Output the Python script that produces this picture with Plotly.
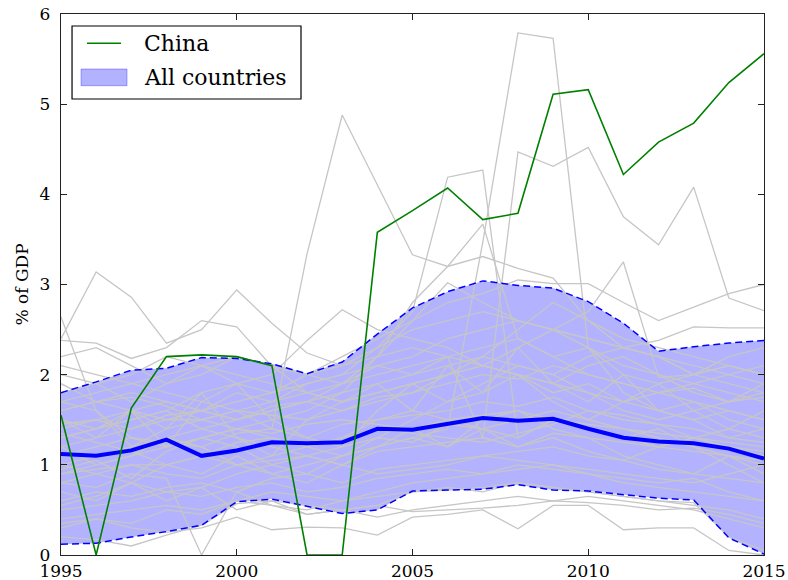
import plotly.graph_objects as go

years = list(range(1995, 2016))

china = [1.55, 0.0, 1.63, 2.20, 2.22, 2.20, 2.10, 0.0, 0.0, 3.58, 3.82, 4.07, 3.72, 3.79, 5.11,
         5.16, 4.22, 4.58, 4.79, 5.24, 5.56]

median = [1.12, 1.10, 1.16, 1.28, 1.10, 1.16, 1.25, 1.24, 1.25, 1.40, 1.39, 1.45, 1.52, 1.49, 1.51,
          1.40, 1.30, 1.26, 1.24, 1.18, 1.07]

upper = [1.80, 1.92, 2.05, 2.07, 2.19, 2.18, 2.12, 2.01, 2.14, 2.45, 2.74, 2.92, 3.04, 2.99, 2.96,
         2.81, 2.57, 2.26, 2.31, 2.35, 2.38]

lower = [0.12, 0.13, 0.20, 0.26, 0.33, 0.59, 0.62, 0.54, 0.46, 0.50, 0.71, 0.72, 0.73, 0.78, 0.72,
         0.71, 0.67, 0.63, 0.61, 0.19, 0.01]

country_a = [1.9, 1.7, 1.6, 1.5, 1.5, 1.6, 1.4, 3.34, 4.88, 4.1, 3.33, 3.2, 3.31, 3.18, 3.07, 2.6, 2.3, 2.2, 2.0, 2.1, 2.0]
country_b = [1.2, 1.3, 1.4, 1.5, 1.6, 1.7, 1.8, 1.9, 2.0, 2.3, 2.7, 4.19, 4.27, 1.3, 1.5, 1.4, 1.3, 1.2, 1.3, 1.2, 1.1]
country_c = [0.8, 0.9, 1.0, 1.0, 1.1, 1.0, 1.1, 1.2, 1.1, 1.2, 1.3, 1.4, 3.47, 5.79, 5.73, 2.3, 1.8, 1.6, 1.7, 1.5, 1.4]
country_d = [1.5, 1.4, 1.6, 1.7, 1.6, 1.8, 1.7, 1.9, 2.0, 2.1, 2.0, 2.2, 1.3, 4.47, 4.31, 4.52, 3.75, 3.44, 4.08, 2.85, 2.71]
country_e = [0.9, 1.0, 1.1, 1.2, 1.3, 1.4, 1.5, 1.6, 1.8, 2.2, 2.8, 3.2, 3.67, 2.4, 2.2, 2.0, 1.9, 1.8, 1.7, 1.6, 1.5]
country_g = [1.4, 1.5, 1.6, 1.4, 1.5, 1.6, 1.7, 1.8, 1.7, 1.8, 1.9, 2.0, 2.1, 2.3, 2.5, 2.7, 3.25, 1.97, 2.0, 2.1, 2.0]
country_h = [1.7, 1.8, 1.9, 2.0, 2.1, 2.2, 2.1, 2.0, 2.2, 2.4, 2.6, 2.8, 2.9, 3.05, 3.01, 3.01, 2.8, 2.6, 2.75, 2.9, 3.0]
country_i = [1.6, 1.7, 1.8, 1.7, 1.6, 1.5, 1.6, 1.7, 1.8, 1.9, 2.0, 2.1, 2.2, 2.1, 2.0, 2.2, 2.3, 2.38, 2.53, 2.52, 2.52]
country_j = [2.4, 3.14, 2.86, 2.35, 2.5, 2.94, 2.57, 2.24, 2.1, 2.2, 2.3, 2.2, 2.1, 2.0, 1.8, 1.9, 1.7, 1.6, 1.5, 1.6, 1.5]
country_k = [2.64, 1.6, 1.3, 1.2, 1.3, 1.4, 1.3, 1.2, 1.3, 1.5, 1.6, 1.5, 1.4, 1.5, 1.6, 1.5, 1.4, 1.3, 1.2, 1.1, 1.0]
country_l = [2.38, 2.35, 2.18, 2.3, 2.6, 2.53, 2.09, 2.0, 1.9, 2.1, 2.2, 2.4, 2.5, 2.6, 2.5, 2.4, 2.3, 2.2, 2.1, 2.0, 1.9]
country_m = [1.3, 1.4, 1.5, 1.6, 1.8, 1.9, 2.0, 2.38, 2.72, 2.5, 2.4, 2.3, 2.1, 2.0, 1.9, 1.8, 1.7, 1.8, 1.9, 2.0, 2.1]
country_n = [1.0, 1.1, 1.2, 1.3, 1.4, 1.5, 1.6, 1.7, 1.9, 2.2, 2.6, 3.02, 2.8, 2.6, 2.5, 2.4, 2.3, 2.2, 2.0, 1.9, 1.8]
country_p = [0.8, 0.75, 0.9, 0.85, 0.0, 0.7, 0.55, 0.45, 0.5, 0.42, 0.5, 0.55, 0.6, 0.65, 0.6, 0.65, 0.6, 0.55, 0.5, 0.4, 0.3]
country_q = [0.35, 0.4, 0.3, 0.25, 0.3, 0.42, 0.28, 0.31, 0.3, 0.22, 0.42, 0.45, 0.5, 0.29, 0.55, 0.55, 0.28, 0.3, 0.3, 0.05, 0.0]
country_r = [0.2, 0.17, 0.1, 0.22, 0.33, 0.57, 0.6, 0.55, 0.5, 0.55, 0.7, 0.72, 0.75, 0.8, 0.75, 0.7, 0.65, 0.6, 0.58, 0.2, 0.05]
country_s = [1.45, 1.5, 1.4, 1.55, 1.6, 1.5, 1.65, 1.7, 1.6, 1.75, 1.8, 1.9, 2.0, 1.95, 2.1, 2.0, 1.9, 1.8, 1.85, 1.7, 1.75]
country_t = [0.9, 0.95, 1.0, 0.9, 0.85, 1.0, 1.05, 1.1, 1.0, 1.15, 1.2, 1.25, 1.3, 1.2, 1.35, 1.3, 1.25, 1.2, 1.15, 1.1, 1.05]
country_u = [0.5, 0.55, 0.6, 0.7, 0.65, 0.75, 0.8, 0.7, 0.75, 0.85, 0.9, 0.95, 0.9, 1.0, 0.95, 0.9, 0.85, 0.8, 0.85, 0.7, 0.6]
country_v = [1.7, 1.6, 1.2, 1.4, 1.8, 1.3, 1.1, 1.5, 1.7, 1.9, 1.6, 2.1, 1.8, 2.3, 1.9, 1.7, 2.0, 1.6, 1.5, 1.3, 1.4]
country_w = [0.3, 0.4, 0.35, 0.5, 0.45, 0.6, 0.55, 0.5, 0.6, 0.65, 0.7, 0.75, 0.7, 0.8, 0.75, 0.7, 0.65, 0.6, 0.55, 0.5, 0.4]
country_x = [1.1, 1.2, 1.3, 1.25, 1.2, 1.35, 1.4, 1.3, 1.45, 1.5, 1.55, 1.6, 1.7, 1.65, 1.75, 1.6, 1.5, 1.45, 1.4, 1.3, 1.25]
country_y = [2.1, 2.0, 1.9, 1.8, 1.7, 1.6, 1.55, 1.5, 1.6, 1.7, 1.8, 2.0, 2.2, 2.5, 2.8, 2.6, 2.4, 2.3, 2.2, 2.1, 2.0]
country_z = [0.7, 0.6, 0.8, 1.0, 0.9, 1.1, 0.9, 0.8, 1.0, 1.2, 1.4, 1.2, 1.5, 1.6, 1.4, 1.3, 1.1, 1.0, 0.9, 1.1, 0.9]
country_aa = [1.6, 1.7, 1.75, 1.65, 1.5, 1.4, 1.35, 1.45, 1.5, 1.45, 1.4, 1.5, 1.55, 1.6, 1.5, 1.45, 1.4, 1.35, 1.3, 1.25, 1.2]
country_ab = [0.95, 1.05, 0.85, 1.15, 1.3, 1.2, 1.0, 0.9, 1.1, 1.3, 1.25, 1.45, 1.4, 1.2, 1.3, 1.15, 1.05, 1.2, 1.3, 1.4, 1.6]
country_ac = [0.4, 0.45, 0.5, 0.55, 0.5, 0.6, 0.7, 0.65, 0.6, 0.7, 0.8, 0.85, 0.9, 0.95, 1.0, 0.9, 0.8, 0.75, 0.7, 0.65, 0.6]
country_ad = [1.3, 1.4, 1.5, 1.6, 1.4, 1.3, 1.2, 1.1, 1.2, 1.3, 1.5, 1.7, 1.9, 2.1, 2.0, 1.8, 1.6, 1.5, 1.6, 1.7, 1.8]
country_ae = [2.0, 1.9, 1.7, 1.9, 2.1, 2.0, 1.9, 1.8, 1.9, 2.0, 2.1, 2.2, 2.3, 2.4, 2.2, 2.3, 2.1, 2.0, 1.9, 1.8, 1.7]
country_af = [0.6, 0.7, 0.65, 0.75, 0.8, 0.7, 0.85, 0.9, 0.8, 0.95, 1.0, 1.05, 1.1, 1.15, 1.2, 1.1, 1.05, 0.95, 0.9, 0.85, 0.8]
country_ag = [1.2, 1.0, 1.1, 1.3, 1.2, 1.0, 0.9, 1.0, 1.1, 1.2, 1.3, 1.2, 1.4, 1.3, 1.5, 1.4, 1.3, 1.4, 1.2, 1.0, 0.8]
country_ah = [1.8, 1.9, 2.0, 2.2, 2.1, 1.9, 1.8, 2.0, 2.1, 2.3, 2.5, 2.6, 2.7, 2.6, 2.5, 2.3, 2.0, 1.9, 2.0, 2.2, 2.3]
country_ai = [1.0, 0.9, 0.8, 0.7, 0.75, 0.9, 1.0, 1.1, 1.0, 0.9, 0.95, 1.0, 1.1, 1.05, 1.0, 0.95, 0.9, 0.85, 0.8, 0.9, 1.0]
country_aj = [1.5, 1.3, 1.6, 1.2, 1.7, 1.9, 1.5, 1.3, 1.2, 1.6, 1.9, 1.7, 1.8, 2.0, 1.7, 1.5, 1.7, 1.9, 1.6, 1.4, 1.3]
country_ak = [0.55, 0.65, 0.8, 0.6, 0.75, 0.5, 0.6, 0.45, 0.5, 0.55, 0.48, 0.5, 0.52, 0.55, 0.6, 0.58, 0.55, 0.5, 0.52, 0.45, 0.35]
country_al = [1.35, 1.25, 1.15, 1.0, 1.1, 1.25, 1.3, 1.2, 1.3, 1.4, 1.35, 1.3, 1.25, 1.35, 1.45, 1.6, 1.55, 1.45, 1.3, 1.2, 1.15]
country_am = [2.2, 2.3, 2.1, 1.9, 2.0, 2.2, 2.1, 1.8, 1.7, 1.8, 1.9, 2.0, 2.1, 2.0, 1.9, 2.1, 2.2, 2.0, 1.8, 1.7, 1.9]

countries = [country_a, country_b, country_c, country_d, country_e, country_g, country_h, country_i,
             country_j, country_k, country_l, country_m, country_n, country_p, country_q, country_r,
             country_s, country_t, country_u, country_v, country_w, country_x, country_y, country_z,
             country_aa, country_ab, country_ac, country_ad, country_ae, country_af, country_ag,
             country_ah, country_ai, country_aj, country_ak, country_al, country_am]

legend_labels = ["China", "All countries"]

FONT = "DejaVu Serif"
BAND = "rgba(0,0,255,0.3)"
fig = go.Figure()

# band fill
fig.add_trace(go.Scatter(x=years, y=lower, mode="lines", line=dict(width=0),
                         showlegend=False, hoverinfo="skip"))
fig.add_trace(go.Scatter(x=years, y=upper, mode="lines", line=dict(width=0),
                         fill="tonexty", fillcolor=BAND, showlegend=False))

for c in countries:
    fig.add_trace(go.Scatter(x=years, y=c, mode="lines",
                             line=dict(color="#c6c6c6", width=1.3),
                             showlegend=False, hoverinfo="skip"))

fig.add_trace(go.Scatter(x=years, y=lower, mode="lines",
                         line=dict(color="#0000ff", width=1.5, dash="7px,4px"), showlegend=False))
fig.add_trace(go.Scatter(x=years, y=upper, mode="lines",
                         line=dict(color="#0000ff", width=1.5, dash="7px,4px"), showlegend=False))
fig.add_trace(go.Scatter(x=years, y=median, mode="lines",
                         line=dict(color="#0000ff", width=4), showlegend=False))
fig.add_trace(go.Scatter(x=years, y=china, mode="lines",
                         line=dict(color="#008000", width=1.6), showlegend=False))

# hand-built legend (matplotlib style box)
shapes = [
    dict(type="rect", xref="paper", yref="paper", x0=0.0157, x1=0.3414, y0=0.8429, y1=0.9778,
         line=dict(color="black", width=1.2), fillcolor="white", layer="above"),
    dict(type="line", xref="paper", yref="paper", x0=0.037, x1=0.0853, y0=0.9458, y1=0.9458,
         line=dict(color="#008000", width=1.6), layer="above"),
    dict(type="rect", xref="paper", yref="paper", x0=0.0285, x1=0.0939, y0=0.8675, y1=0.8983,
         line=dict(color=BAND, width=1), fillcolor=BAND, layer="above"),
]
annotations = [
    dict(xref="paper", yref="paper", x=0.1150, y=0.9460, xanchor="left", yanchor="middle",
         text=legend_labels[0], showarrow=False, font=dict(family=FONT, size=22, color="black")),
    dict(xref="paper", yref="paper", x=0.1150, y=0.8830, xanchor="left", yanchor="middle",
         text=legend_labels[1], showarrow=False, font=dict(family=FONT, size=22, color="black")),
]

fig.update_layout(
    template="none",
    width=788, height=580,
    margin=dict(l=61, r=24, t=14, b=25, autoexpand=False),
    paper_bgcolor="white", plot_bgcolor="white",
    font=dict(family=FONT, size=17, color="black"),
    showlegend=False,
    shapes=shapes,
    annotations=annotations,
)
fig.update_xaxes(range=[1995, 2015], tickvals=[1995, 2000, 2005, 2010, 2015],
                 ticks="inside", ticklen=6, tickwidth=1, tickcolor="#222", showline=True,
                 linecolor="#222", linewidth=1.3, mirror="ticks", showgrid=False, zeroline=False,
                 automargin=False, ticklabelstandoff=0,
                 tickfont=dict(family=FONT, size=17, color="black"))
fig.update_yaxes(range=[0, 6], tickvals=[0, 1, 2, 3, 4, 5, 6],
                 ticks="inside", ticklen=6, tickwidth=1, tickcolor="#222", showline=True,
                 linecolor="#222", linewidth=1.3, mirror="ticks", showgrid=False, zeroline=False,
                 automargin=False, ticklabelstandoff=6,
                 tickfont=dict(family=FONT, size=17, color="black"),
                 title=dict(text="% of GDP", font=dict(family=FONT, size=17, color="black"),
                            standoff=6))

fig.write_html("out.html", config={"displayModeBar": False},
               post_script="document.body.style.margin='0';document.body.style.overflow='hidden';")
